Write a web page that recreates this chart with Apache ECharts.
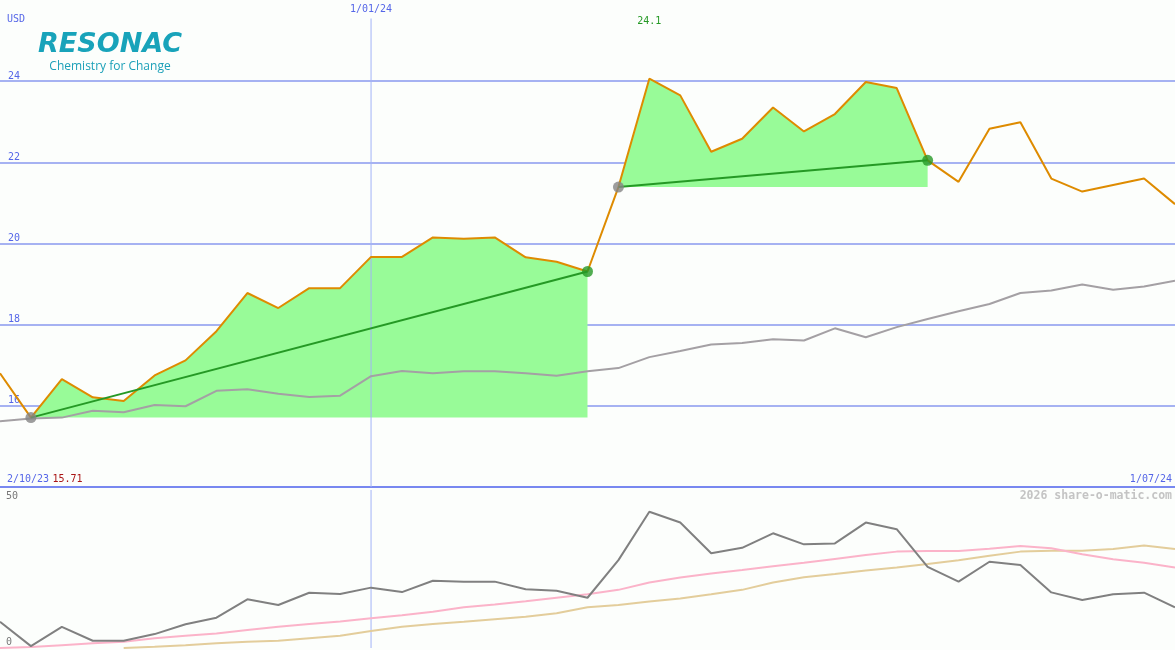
<!DOCTYPE html>
<html>
<head>
<meta charset="utf-8">
<script src="https://cdn.jsdelivr.net/npm/echarts@6/dist/echarts.min.js"></script>
<style>html,body{margin:0;padding:0;background:#fcfefc;}#c{width:1175px;height:650px;}</style>
</head>
<body>
<div id="c"></div>
<script>
// ---- data ----
const dates = ['9/10/23','16/10/23','23/10/23','30/10/23','6/11/23','13/11/23','20/11/23','27/11/23','4/12/23','11/12/23','18/12/23','25/12/23','1/01/24','8/01/24','15/01/24','22/01/24','29/01/24','5/02/24','12/02/24','19/02/24','26/02/24','4/03/24','11/03/24','18/03/24','25/03/24','1/04/24','8/04/24','15/04/24','22/04/24','29/04/24','6/05/24','13/05/24','20/05/24','27/05/24','3/06/24','10/06/24','17/06/24','24/06/24','1/07/24'];
const price = [16.80,15.71,16.66,16.21,16.12,16.75,17.12,17.84,18.78,18.41,18.90,18.90,19.67,19.67,20.15,20.12,20.15,19.66,19.55,19.31,21.39,24.06,23.65,22.26,22.58,23.35,22.76,23.19,23.98,23.83,22.05,21.52,22.83,22.99,21.60,21.28,21.44,21.60,20.97];
const priceAvg = [15.62,15.69,15.71,15.88,15.84,16.02,15.99,16.37,16.41,16.30,16.22,16.25,16.73,16.86,16.80,16.85,16.85,16.80,16.74,16.85,16.93,17.20,17.35,17.51,17.55,17.64,17.61,17.91,17.69,17.94,18.14,18.33,18.51,18.78,18.84,18.99,18.86,18.94,19.08];
const oscillator = [8.3,0.6,6.7,2.3,2.3,4.4,7.5,9.6,15.4,13.6,17.5,17.1,19.1,17.7,21.3,21.0,21.0,18.6,18.1,15.9,27.8,43.1,39.7,30.0,31.7,36.3,32.8,33.1,39.7,37.6,25.7,21.0,27.3,26.3,17.6,15.2,17.0,17.5,12.9];
const oscAvgFast = [0.0,0.3,0.9,1.5,2.0,3.1,3.9,4.6,5.7,6.7,7.6,8.4,9.4,10.4,11.5,12.9,13.8,14.8,15.9,17.0,18.4,20.7,22.3,23.6,24.7,25.9,27.0,28.2,29.4,30.5,30.7,30.7,31.4,32.3,31.6,29.7,28.1,27.0,25.5];
const oscAvgSlow = [null,null,null,null,0.0,0.4,0.9,1.5,2.0,2.3,3.1,3.9,5.4,6.7,7.6,8.3,9.1,9.9,11.0,12.9,13.6,14.7,15.7,17.0,18.4,20.7,22.4,23.4,24.5,25.5,26.6,27.8,29.2,30.5,30.8,30.8,31.3,32.4,31.3];
const upSegments = [[1,19],[20,30]];   // start index, end index
const priceTicks = [14,26,2];           // min, max, interval
const oscTicks = [0,50];
const markDate = '1/01/24';
const rangeStart = '2/10/23';
const rangeEnd = '1/07/24';
const currency = 'USD';
const watermark = '2026 share-o-matic.com';

// ---- build ----
const BG = '#fcfefc';
const mono = 'DejaVu Sans Mono';
const VCOLOR = '#a3b3f7';
const series = [];

upSegments.forEach(([s,e]) => {
  series.push({
    type:'line', xAxisIndex:0, yAxisIndex:0, z:1,
    data: price.map((v,i)=> (i>=s && i<=e) ? v : '-'),
    symbol:'none', lineStyle:{width:0, opacity:0},
    areaStyle:{origin: price[s], color:'#98fb98', opacity:1},
    silent:true, animation:false
  });
});
// year marker (vertical line) in upper panel
series.push({type:'line', xAxisIndex:0, yAxisIndex:0, z:2, symbol:'none', silent:true,
  data:[[markDate, priceTicks[1]],[markDate, priceTicks[0]]], lineStyle:{color:VCOLOR, width:1}, animation:false});
series.push({
  type:'line', xAxisIndex:0, yAxisIndex:0, z:2, data:priceAvg, symbol:'none',
  lineStyle:{color:'#a4a0a4', width:2}, animation:false
});
series.push({
  type:'line', xAxisIndex:0, yAxisIndex:0, z:3, data:price, symbol:'none',
  lineStyle:{color:'#de8b00', width:2}, animation:false
});
upSegments.forEach(([s,e]) => {
  series.push({
    type:'line', xAxisIndex:0, yAxisIndex:0, z:4, connectNulls:true,
    data: price.map((v,i)=> (i===s || i===e) ? v : null),
    symbol:'none', lineStyle:{color:'#259925', width:2}, animation:false
  });
  series.push({
    type:'scatter', xAxisIndex:0, yAxisIndex:0, z:5, symbolSize:11,
    data:[{value:[s, price[s]], itemStyle:{color:'#858585'}},
          {value:[e, price[e]], itemStyle:{color:'#259925'}}],
    animation:false
  });
});
// lower panel
series.push({type:'line', xAxisIndex:1, yAxisIndex:1, z:1, symbol:'none', silent:true,
  data:[[markDate, oscTicks[1]],[markDate, oscTicks[0]]], lineStyle:{color:VCOLOR, width:1}, animation:false});
series.push({type:'line', xAxisIndex:1, yAxisIndex:1, z:2, data:oscAvgSlow, symbol:'none',
  lineStyle:{color:'#e3cd9b', width:2}, animation:false});
series.push({type:'line', xAxisIndex:1, yAxisIndex:1, z:3, data:oscAvgFast, symbol:'none',
  lineStyle:{color:'#fbb3c9', width:2}, animation:false});
series.push({type:'line', xAxisIndex:1, yAxisIndex:1, z:4, data:oscillator, symbol:'none',
  lineStyle:{color:'#808080', width:2}, animation:false});

const chart = echarts.init(document.getElementById('c'), null, {renderer:'canvas'});
chart.setOption({
  backgroundColor: BG,
  animation:false,
  grid:[{left:0, right:0, top:0, height:487}, {left:0, right:0, top:490, height:158}],
  xAxis:[
    {type:'category', gridIndex:0, data:dates, boundaryGap:false,
     axisLine:{show:true, lineStyle:{color:'#7888f0', width:2}}, axisTick:{show:false}, axisLabel:{show:false}, splitLine:{show:false}},
    {type:'category', gridIndex:1, data:dates, boundaryGap:false,
     axisLine:{show:false}, axisTick:{show:false}, axisLabel:{show:false}, splitLine:{show:false}}
  ],
  yAxis:[
    {type:'value', gridIndex:0, min:priceTicks[0], max:priceTicks[1], interval:priceTicks[2],
     axisLine:{show:false}, axisTick:{show:false},
     splitLine:{show:true, showMinLine:false, showMaxLine:false, lineStyle:{color:'#a6b2f2', width:2}},
     axisLabel:{inside:true, margin:8, verticalAlign:'bottom', color:'#5566e8', fontFamily:mono, fontSize:10,
       showMinLabel:false, showMaxLabel:false}},
    {type:'value', gridIndex:1, min:oscTicks[0], max:oscTicks[1], interval:oscTicks[1]-oscTicks[0],
     axisLine:{show:false}, axisTick:{show:false}, splitLine:{show:false},
     axisLabel:{inside:true, margin:6, color:'#777', fontFamily:mono, fontSize:10,
       formatter:v => v===oscTicks[1] ? '{t|'+v+'}' : '{b|'+v+'}',
       rich:{t:{padding:[13,0,0,0], color:'#777', fontFamily:mono, fontSize:10},
             b:{padding:[0,0,11,0], color:'#777', fontFamily:mono, fontSize:10}}}}
  ],
  series: series
});

// text overlays positioned from the data
const xMark = chart.convertToPixel({xAxisIndex:0}, markDate);
let maxI = 0; price.forEach((v,i)=>{ if(v>price[maxI]) maxI=i; });
const xMax = chart.convertToPixel({xAxisIndex:0}, dates[maxI]);
chart.setOption({
  graphic:[
    {type:'text', left:7, top:14, style:{text:currency, fill:'#5566e8', font:'10px "'+mono+'"'}},
    {type:'text', x:xMark, y:9, z:10, style:{text:markDate, fill:'#5566e8', font:'10px "'+mono+'"',
      align:'center', verticalAlign:'middle', backgroundColor:BG, padding:[4,2,5,2]}},
    {type:'text', x:xMax, y:21, style:{text:price[maxI].toFixed(1), fill:'#259925', font:'10px "'+mono+'"',
      align:'center', verticalAlign:'middle'}},
    {type:'text', x:7, y:479, style:{text:'{d|'+rangeStart+'} {v|'+price[upSegments[0][0]].toFixed(2)+'}',
      verticalAlign:'middle', rich:{d:{fill:'#5566e8', font:'10px "'+mono+'"'}, v:{fill:'#aa1515', font:'10px "'+mono+'"'}}}},
    {type:'text', x:1172, y:479, style:{text:rangeEnd, fill:'#5566e8', font:'10px "'+mono+'"', align:'right', verticalAlign:'middle'}},
    {type:'text', x:1172, y:496, style:{text:watermark, fill:'#c4c4c4', font:'bold 11.5px "'+mono+'"', align:'right', verticalAlign:'middle'}},
    {type:'text', x:38, y:45, style:{text:'RESONAC', fill:'#18a3ba', font:'italic bold 27px "DejaVu Sans"', verticalAlign:'middle'}},
    {type:'text', x:110, y:67, style:{text:'Chemistry for Change', fill:'#1ca0b8', font:'12px "Open Sans"', align:'center', verticalAlign:'middle'}}
  ]
});
</script>
</body>
</html>
